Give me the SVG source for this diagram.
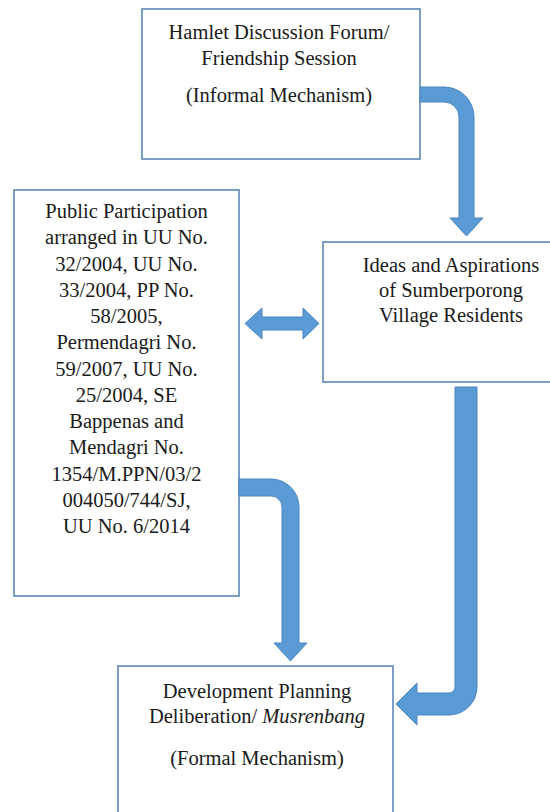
<svg xmlns="http://www.w3.org/2000/svg" width="550" height="812" viewBox="0 0 550 812">
<style>
.box{fill:#ffffff;stroke:#4F7FB4;stroke-width:1.5}
.t{font-family:"Liberation Serif","Times New Roman","DejaVu Serif",serif;font-size:20.5px;fill:#1a1a1a;text-anchor:middle}
.arr{fill:#5B9BD5;stroke:#4A86C0;stroke-width:1}
</style>
<rect width="550" height="812" fill="#ffffff"/>
<g id="hamlet">
<rect class="box" x="142" y="9" width="278" height="150"/>
<text class="t" x="279" y="39">Hamlet Discussion Forum/</text>
<text class="t" x="279" y="65">Friendship Session</text>
<text class="t" x="279" y="102">(Informal Mechanism)</text>
</g>
<g id="public">
<rect class="box" x="14" y="190" width="225" height="406"/>
<text class="t" x="126.5" y="218">Public Participation</text>
<text class="t" x="126.5" y="244.25">arranged in UU No.</text>
<text class="t" x="126.5" y="270.5">32/2004, UU No.</text>
<text class="t" x="126.5" y="296.75">33/2004, PP No.</text>
<text class="t" x="126.5" y="323">58/2005,</text>
<text class="t" x="126.5" y="349.25">Permendagri No.</text>
<text class="t" x="126.5" y="375.5">59/2007, UU No.</text>
<text class="t" x="126.5" y="401.75">25/2004, SE</text>
<text class="t" x="126.5" y="428">Bappenas and</text>
<text class="t" x="126.5" y="454.25">Mendagri No.</text>
<text class="t" x="126.5" y="480.5">1354/M.PPN/03/2</text>
<text class="t" x="126.5" y="506.75">004050/744/SJ,</text>
<text class="t" x="126.5" y="533">UU No. 6/2014</text>
</g>
<g id="ideas">
<rect class="box" x="323" y="242" width="260" height="140"/>
<text class="t" x="451" y="272">Ideas and Aspirations</text>
<text class="t" x="451" y="297">of Sumberporong</text>
<text class="t" x="451" y="322">Village Residents</text>
</g>
<g id="musrenbang">
<rect class="box" x="118" y="666" width="275" height="160"/>
<text class="t" x="257" y="698">Development Planning</text>
<text class="t" x="257" y="723">Deliberation/ <tspan font-style="italic">Musrenbang</tspan></text>
<text class="t" x="257" y="765">(Formal Mechanism)</text>
</g>
<g id="connectors">
<path class="arr" d="M420,87 L444,87 A30,30 0 0 1 474,117 L474,218 L483,218 L466.5,236 L450,218 L459,218 L459,117 A15,15 0 0 0 444,102 L420,102 Z"/>
<path class="arr" d="M245,323.5 L262,308 L262,317 L303,317 L303,308 L319,323.5 L303,339 L303,330 L262,330 L262,339 Z"/>
<path class="arr" d="M455,387 L477,387 L477,687 A28,28 0 0 1 449,715 L417,715 L417,725 L396,704 L417,683 L417,693 L449,693 A6,6 0 0 0 455,687 Z"/>
<path class="arr" d="M239,479 L271,479 A28,28 0 0 1 299,507 L299,643 L307,643 L290.5,661 L274,643 L282,643 L282,507 A11,11 0 0 0 271,496 L239,496 Z"/>
</g>
</svg>
